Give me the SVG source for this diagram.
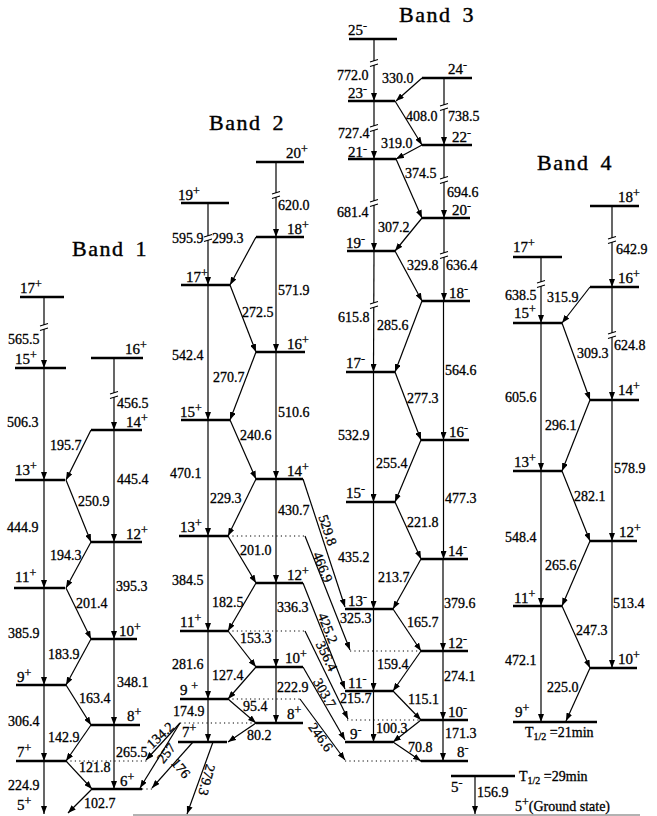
<svg xmlns="http://www.w3.org/2000/svg" width="657" height="816" viewBox="0 0 657 816">
<defs>
<marker id="ah" viewBox="0 0 8 6" refX="8" refY="3" markerWidth="8" markerHeight="6" orient="auto" markerUnits="userSpaceOnUse"><path d="M0,0 L8,3 L0,6 z" fill="#000"/></marker>
<style>
.lv{stroke:#000;stroke-width:2.6;fill:none}
.tr{stroke:#000;stroke-width:1.2;fill:none;marker-end:url(#ah)}
.dt{stroke:#000;stroke-width:1;stroke-dasharray:1.2 3.2;fill:none}
.bk{stroke:#000;stroke-width:1.1;fill:none}
.gap{fill:#fff;stroke:none}
text{font-family:"Liberation Serif","Times New Roman",serif;fill:#000;stroke:#000;stroke-width:0.3}
.e{font-size:14px}
.j{font-size:15px}
.s{font-size:12px}
.t{font-size:22px;letter-spacing:1.5px;word-spacing:4px;stroke-width:0.4}
.h{font-size:14px}
.sub{font-size:10px}
.r{text-anchor:middle}
</style>
</defs>
<rect width="657" height="816" fill="#fff"/>

<g id="titles">
<text class="t" x="72" y="256">Band 1</text>
<text class="t" x="209" y="130">Band 2</text>
<text class="t" x="399" y="22">Band 3</text>
<text class="t" x="537" y="170">Band 4</text>
</g>

<!-- Band 1 levels -->
<g id="b1-17p"><line class="lv" x1="20" y1="297" x2="64" y2="297"/><text class="j" x="20" y="293">17<tspan class="s" dy="-5">+</tspan></text></g>
<g id="b1-15p"><line class="lv" x1="15" y1="368" x2="66" y2="368"/><text class="j" x="15" y="364">15<tspan class="s" dy="-5">+</tspan></text></g>
<g id="b1-16p"><line class="lv" x1="91" y1="358" x2="143" y2="358"/><text class="j" x="125" y="354">16<tspan class="s" dy="-5">+</tspan></text></g>
<g id="b1-14p"><line class="lv" x1="91" y1="430" x2="142" y2="430"/><text class="j" x="126" y="427">14<tspan class="s" dy="-5">+</tspan></text></g>
<g id="b1-13p"><line class="lv" x1="15" y1="480" x2="65" y2="480"/><text class="j" x="15" y="475">13<tspan class="s" dy="-5">+</tspan></text></g>
<g id="b1-12p"><line class="lv" x1="91" y1="542" x2="142" y2="542"/><text class="j" x="126" y="539">12<tspan class="s" dy="-5">+</tspan></text></g>
<g id="b1-11p"><line class="lv" x1="14" y1="588" x2="65" y2="588"/><text class="j" x="15" y="582">11<tspan class="s" dy="-5">+</tspan></text></g>
<g id="b1-10p"><line class="lv" x1="91" y1="639" x2="137" y2="639"/><text class="j" x="119" y="636">10<tspan class="s" dy="-5">+</tspan></text></g>
<g id="b1-9p"><line class="lv" x1="16" y1="685" x2="66" y2="685"/><text class="j" x="17" y="682">9<tspan class="s" dy="-5">+</tspan></text></g>
<g id="b1-8p"><line class="lv" x1="91" y1="725" x2="140" y2="725"/><text class="j" x="127" y="721">8<tspan class="s" dy="-5">+</tspan></text></g>
<g id="b1-7p"><line class="lv" x1="16" y1="761" x2="66" y2="761"/><text class="j" x="17" y="757">7<tspan class="s" dy="-5">+</tspan></text></g>
<g id="b1-6p"><line class="lv" x1="92" y1="789" x2="142" y2="789"/><text class="j" x="120" y="786">6<tspan class="s" dy="-5">+</tspan></text></g>
<g id="b1-5p"><text class="j" x="17" y="810">5<tspan class="s" dy="-5">+</tspan></text></g>

<!-- Band 2 levels -->
<g id="b2-20p"><line class="lv" x1="256" y1="162" x2="304" y2="162"/><text class="j" x="286" y="158">20<tspan class="s" dy="-5">+</tspan></text></g>
<g id="b2-19p"><line class="lv" x1="181" y1="203" x2="229" y2="203"/><text class="j" x="178" y="200">19<tspan class="s" dy="-5">+</tspan></text></g>
<g id="b2-18p"><line class="lv" x1="256" y1="237" x2="304" y2="237"/><text class="j" x="287" y="234">18<tspan class="s" dy="-5">+</tspan></text></g>
<g id="b2-17p"><line class="lv" x1="181" y1="285" x2="230" y2="285"/><text class="j" x="186" y="282">17<tspan class="s" dy="-5">+</tspan></text></g>
<g id="b2-16p"><line class="lv" x1="256" y1="352" x2="305" y2="352"/><text class="j" x="287" y="349">16<tspan class="s" dy="-5">+</tspan></text></g>
<g id="b2-15p"><line class="lv" x1="181" y1="420" x2="230" y2="420"/><text class="j" x="180" y="417">15<tspan class="s" dy="-5">+</tspan></text></g>
<g id="b2-14p"><line class="lv" x1="256" y1="479" x2="303" y2="479"/><text class="j" x="287" y="476">14<tspan class="s" dy="-5">+</tspan></text></g>
<g id="b2-13p"><line class="lv" x1="179" y1="536" x2="228" y2="536"/><text class="j" x="180" y="532">13<tspan class="s" dy="-5">+</tspan></text></g>
<g id="b2-12p"><line class="lv" x1="256" y1="583" x2="303" y2="583"/><text class="j" x="287" y="580">12<tspan class="s" dy="-5">+</tspan></text></g>
<g id="b2-11p"><line class="lv" x1="180" y1="631" x2="228" y2="631"/><text class="j" x="180" y="627">11<tspan class="s" dy="-5">+</tspan></text></g>
<g id="b2-10p"><line class="lv" x1="256" y1="667" x2="303" y2="667"/><text class="j" x="285" y="663">10<tspan class="s" dy="-5">+</tspan></text></g>
<g id="b2-9p"><line class="lv" x1="180" y1="699" x2="228" y2="699"/><text class="j" x="180" y="695">9 <tspan class="s" dy="-5">+</tspan></text></g>
<g id="b2-8p"><line class="lv" x1="256" y1="723" x2="303" y2="723"/><text class="j" x="287" y="719">8<tspan class="s" dy="-5">+</tspan></text></g>
<g id="b2-7p"><line class="lv" x1="178" y1="742" x2="227" y2="742"/><text class="j" x="182" y="737">7<tspan class="s" dy="-5">+</tspan></text></g>

<!-- Band 3 levels -->
<g id="b3-25m"><line class="lv" x1="349" y1="39" x2="397" y2="39"/><text class="j" x="348" y="35">25<tspan class="s" dy="-5">-</tspan></text></g>
<g id="b3-24m"><line class="lv" x1="422" y1="78" x2="472" y2="78"/><text class="j" x="448" y="74">24<tspan class="s" dy="-5">-</tspan></text></g>
<g id="b3-23m"><line class="lv" x1="348" y1="101" x2="395" y2="101"/><text class="j" x="348" y="98">23<tspan class="s" dy="-5">-</tspan></text></g>
<g id="b3-22m"><line class="lv" x1="422" y1="145" x2="472" y2="145"/><text class="j" x="452" y="142">22<tspan class="s" dy="-5">-</tspan></text></g>
<g id="b3-21m"><line class="lv" x1="348" y1="159" x2="396" y2="159"/><text class="j" x="348" y="157">21<tspan class="s" dy="-4">-</tspan></text></g>
<g id="b3-20m"><line class="lv" x1="422" y1="218" x2="470" y2="218"/><text class="j" x="452" y="215">20<tspan class="s" dy="-5">-</tspan></text></g>
<g id="b3-19m"><line class="lv" x1="347" y1="251" x2="395" y2="251"/><text class="j" x="346" y="248">19<tspan class="s" dy="-5">-</tspan></text></g>
<g id="b3-18m"><line class="lv" x1="422" y1="301" x2="470" y2="301"/><text class="j" x="449" y="298">18<tspan class="s" dy="-5">-</tspan></text></g>
<g id="b3-17m"><line class="lv" x1="346" y1="372" x2="395" y2="372"/><text class="j" x="346" y="368">17<tspan class="s" dy="-5">-</tspan></text></g>
<g id="b3-16m"><line class="lv" x1="421" y1="440" x2="469" y2="440"/><text class="j" x="449" y="437">16<tspan class="s" dy="-5">-</tspan></text></g>
<g id="b3-15m"><line class="lv" x1="346" y1="502" x2="395" y2="502"/><text class="j" x="346" y="498">15<tspan class="s" dy="-5">-</tspan></text></g>
<g id="b3-14m"><line class="lv" x1="421" y1="559" x2="468" y2="559"/><text class="j" x="448" y="556">14<tspan class="s" dy="-5">-</tspan></text></g>
<g id="b3-13m"><line class="lv" x1="345" y1="609" x2="393" y2="609"/><text class="j" x="348" y="606">13<tspan class="s" dy="-5">-</tspan></text></g>
<g id="b3-12m"><line class="lv" x1="421" y1="651" x2="468" y2="651"/><text class="j" x="448" y="648">12<tspan class="s" dy="-5">-</tspan></text></g>
<g id="b3-11m"><line class="lv" x1="345" y1="691" x2="393" y2="691"/><text class="j" x="348" y="688">11<tspan class="s" dy="-5">-</tspan></text></g>
<g id="b3-10m"><line class="lv" x1="421" y1="720" x2="468" y2="720"/><text class="j" x="448" y="717">10<tspan class="s" dy="-5">-</tspan></text></g>
<g id="b3-9m"><line class="lv" x1="345" y1="742" x2="393" y2="742"/><text class="j" x="350" y="739">9<tspan class="s" dy="-5">-</tspan></text></g>
<g id="b3-8m"><line class="lv" x1="421" y1="761" x2="468" y2="761"/><text class="j" x="457" y="757">8<tspan class="s" dy="-5">-</tspan></text></g>

<!-- 5- isomer and ground state -->
<g id="iso-5m"><line class="lv" x1="451" y1="776" x2="515" y2="776"/><text class="j" x="451" y="792">5<tspan class="s" dy="-5">-</tspan></text><text class="h" x="519" y="781">T<tspan class="sub" dy="3">1/2</tspan><tspan dy="-3"> =29min</tspan></text></g>
<g id="ground"><line x1="133" y1="815" x2="640" y2="815" stroke="#999" stroke-width="1.5"/><text class="h" x="515" y="811">5<tspan class="s" dy="-5">+</tspan><tspan dy="5">(Ground state)</tspan></text></g>

<!-- Band 4 levels -->
<g id="b4-18p"><line class="lv" x1="590" y1="206" x2="639" y2="206"/><text class="j" x="618" y="202">18<tspan class="s" dy="-5">+</tspan></text></g>
<g id="b4-17p"><line class="lv" x1="513" y1="257" x2="562" y2="257"/><text class="j" x="513" y="252">17<tspan class="s" dy="-5">+</tspan></text></g>
<g id="b4-16p"><line class="lv" x1="590" y1="287" x2="639" y2="287"/><text class="j" x="618" y="283">16<tspan class="s" dy="-5">+</tspan></text></g>
<g id="b4-15p"><line class="lv" x1="513" y1="323" x2="562" y2="323"/><text class="j" x="514" y="318">15<tspan class="s" dy="-5">+</tspan></text></g>
<g id="b4-14p"><line class="lv" x1="590" y1="400" x2="639" y2="400"/><text class="j" x="618" y="395">14<tspan class="s" dy="-5">+</tspan></text></g>
<g id="b4-13p"><line class="lv" x1="513" y1="471" x2="562" y2="471"/><text class="j" x="514" y="467">13<tspan class="s" dy="-5">+</tspan></text></g>
<g id="b4-12p"><line class="lv" x1="590" y1="541" x2="637" y2="541"/><text class="j" x="619" y="537">12<tspan class="s" dy="-5">+</tspan></text></g>
<g id="b4-11p"><line class="lv" x1="513" y1="606" x2="562" y2="606"/><text class="j" x="514" y="603">11<tspan class="s" dy="-5">+</tspan></text></g>
<g id="b4-10p"><line class="lv" x1="590" y1="668" x2="637" y2="668"/><text class="j" x="618" y="664">10<tspan class="s" dy="-5">+</tspan></text></g>
<g id="b4-9p"><line class="lv" x1="513" y1="722" x2="597" y2="722" stroke-width="3"/><text class="j" x="515" y="717">9<tspan class="s" dy="-5">+</tspan></text><text class="h" x="525" y="737">T<tspan class="sub" dy="3">1/2</tspan><tspan dy="-3"> =21min</tspan></text></g>

<!-- Connectors -->
<g id="connectors">
<path class="dt" d="M66,761 L147,761 M142,789 L152,789 M228,536 L305,536 M228,631 L305,631 M228,699 L300,699 M180,723 L256,723 M350,651 L421,651 M347,720 L421,720 M345,761 L421,761"/>

<!-- Band 1 -->
<line class="tr" x1="44" y1="297" x2="44" y2="368"/>
<line class="tr" x1="44" y1="368" x2="44" y2="480"/>
<line class="tr" x1="44" y1="480" x2="44" y2="588"/>
<line class="tr" x1="44" y1="588" x2="44" y2="685"/>
<line class="tr" x1="44" y1="685" x2="44" y2="761"/>
<line class="tr" x1="44" y1="761" x2="44" y2="814"/>
<line class="tr" x1="114" y1="358" x2="114" y2="430"/>
<line class="tr" x1="114" y1="430" x2="114" y2="542"/>
<line class="tr" x1="114" y1="542" x2="114" y2="639"/>
<line class="tr" x1="114" y1="639" x2="114" y2="725"/>
<line class="tr" x1="114" y1="725" x2="114" y2="789"/>
<line class="tr" x1="91" y1="430" x2="66" y2="480"/>
<line class="tr" x1="66" y1="480" x2="91" y2="542"/>
<line class="tr" x1="91" y1="542" x2="66" y2="588"/>
<line class="tr" x1="66" y1="588" x2="91" y2="639"/>
<line class="tr" x1="91" y1="639" x2="66" y2="685"/>
<line class="tr" x1="66" y1="685" x2="91" y2="725"/>
<line class="tr" x1="91" y1="725" x2="66" y2="761"/>
<line class="tr" x1="66" y1="761" x2="92" y2="789"/>
<line class="tr" x1="92" y1="789" x2="68" y2="813"/>

<!-- Band 2 -->
<line class="tr" x1="208" y1="203" x2="208" y2="285"/>
<line class="tr" x1="208" y1="285" x2="208" y2="420"/>
<line class="tr" x1="208" y1="420" x2="208" y2="536"/>
<line class="tr" x1="208" y1="536" x2="208" y2="631"/>
<line class="tr" x1="208" y1="631" x2="208" y2="699"/>
<line class="tr" x1="208" y1="699" x2="208" y2="742"/>
<line class="tr" x1="276" y1="162" x2="276" y2="237"/>
<line class="tr" x1="276" y1="237" x2="276" y2="352"/>
<line class="tr" x1="276" y1="352" x2="276" y2="479"/>
<line class="tr" x1="276" y1="479" x2="276" y2="583"/>
<line class="tr" x1="276" y1="583" x2="276" y2="667"/>
<line class="tr" x1="276" y1="667" x2="276" y2="723"/>
<line class="tr" x1="256" y1="237" x2="230" y2="285"/>
<line class="tr" x1="230" y1="285" x2="256" y2="352"/>
<line class="tr" x1="256" y1="352" x2="230" y2="420"/>
<line class="tr" x1="230" y1="420" x2="256" y2="479"/>
<line class="tr" x1="256" y1="479" x2="228" y2="536"/>
<line class="tr" x1="228" y1="536" x2="256" y2="583"/>
<line class="tr" x1="256" y1="583" x2="228" y2="631"/>
<line class="tr" x1="228" y1="631" x2="256" y2="667"/>
<line class="tr" x1="256" y1="667" x2="228" y2="699"/>
<line class="tr" x1="228" y1="699" x2="256" y2="723"/>
<line class="tr" x1="256" y1="723" x2="228" y2="742"/>
<line class="tr" x1="180" y1="723" x2="146" y2="760"/>
<line class="tr" x1="180" y1="723" x2="140" y2="788"/>
<line class="tr" x1="193" y1="742" x2="152" y2="788"/>
<line class="tr" x1="213" y1="742" x2="187" y2="814"/>
<!-- Band 2 to Band 3 -->
<line class="tr" x1="303" y1="479" x2="345" y2="607"/>
<line class="tr" x1="305" y1="536" x2="350" y2="650"/>
<line class="tr" x1="303" y1="583" x2="345" y2="689"/>
<line class="tr" x1="305" y1="631" x2="348" y2="719"/>
<line class="tr" x1="303" y1="667" x2="345" y2="740"/>
<line class="tr" x1="300" y1="699" x2="345" y2="760"/>

<!-- Band 3 -->
<line class="tr" x1="374" y1="39" x2="374" y2="101"/>
<line class="tr" x1="374" y1="101" x2="374" y2="159"/>
<line class="tr" x1="374" y1="159" x2="374" y2="251"/>
<line class="tr" x1="374" y1="251" x2="373.5" y2="372"/>
<line class="tr" x1="373.5" y1="372" x2="373.5" y2="502"/>
<line class="tr" x1="373.5" y1="502" x2="373.5" y2="609"/>
<line class="tr" x1="373.5" y1="609" x2="373.5" y2="691"/>
<line class="tr" x1="373.5" y1="691" x2="373.5" y2="742"/>
<line class="tr" x1="444" y1="78" x2="444" y2="145"/>
<line class="tr" x1="444" y1="145" x2="444" y2="218"/>
<line class="tr" x1="444" y1="218" x2="444" y2="301"/>
<line class="tr" x1="443.5" y1="301" x2="443.5" y2="440"/>
<line class="tr" x1="443.5" y1="440" x2="443.5" y2="559"/>
<line class="tr" x1="443" y1="559" x2="443" y2="651"/>
<line class="tr" x1="443" y1="651" x2="443" y2="720"/>
<line class="tr" x1="443" y1="720" x2="443" y2="761"/>
<line class="tr" x1="422" y1="78" x2="396" y2="101"/>
<line class="tr" x1="395" y1="101" x2="422" y2="145"/>
<line class="tr" x1="422" y1="145" x2="396" y2="159"/>
<line class="tr" x1="396" y1="159" x2="422" y2="218"/>
<line class="tr" x1="422" y1="218" x2="395" y2="251"/>
<line class="tr" x1="395" y1="251" x2="422" y2="301"/>
<line class="tr" x1="422" y1="301" x2="395" y2="372"/>
<line class="tr" x1="395" y1="372" x2="421" y2="440"/>
<line class="tr" x1="421" y1="440" x2="395" y2="502"/>
<line class="tr" x1="395" y1="502" x2="421" y2="559"/>
<line class="tr" x1="421" y1="559" x2="393" y2="609"/>
<line class="tr" x1="393" y1="609" x2="421" y2="651"/>
<line class="tr" x1="421" y1="651" x2="393" y2="691"/>
<line class="tr" x1="393" y1="691" x2="421" y2="720"/>
<line class="tr" x1="421" y1="720" x2="393" y2="742"/>
<line class="tr" x1="393" y1="742" x2="421" y2="761"/>
<line class="tr" x1="475" y1="776" x2="475" y2="814"/>

<!-- Band 4 -->
<line class="tr" x1="541" y1="257" x2="541" y2="323"/>
<line class="tr" x1="541" y1="323" x2="541" y2="471"/>
<line class="tr" x1="541" y1="471" x2="541" y2="606"/>
<line class="tr" x1="541" y1="606" x2="541" y2="722"/>
<line class="tr" x1="612" y1="206" x2="612" y2="287"/>
<line class="tr" x1="612" y1="287" x2="612" y2="400"/>
<line class="tr" x1="612" y1="400" x2="612" y2="541"/>
<line class="tr" x1="612" y1="541" x2="612" y2="668"/>
<line class="tr" x1="590" y1="287" x2="562" y2="323"/>
<line class="tr" x1="562" y1="323" x2="590" y2="400"/>
<line class="tr" x1="590" y1="400" x2="562" y2="471"/>
<line class="tr" x1="562" y1="471" x2="590" y2="541"/>
<line class="tr" x1="590" y1="541" x2="562" y2="606"/>
<line class="tr" x1="562" y1="606" x2="590" y2="668"/>
<line class="tr" x1="590" y1="668" x2="566" y2="721"/>

<!-- break marks -->
<g id="breaks">
<g transform="translate(44,327)"><rect class="gap" x="-4" y="-2" width="8" height="4"/><path class="bk" d="M-4,-1 L4,-3.5 M-4,3.5 L4,1"/></g>
<g transform="translate(114,395)"><rect class="gap" x="-4" y="-2" width="8" height="4"/><path class="bk" d="M-4,-1 L4,-3.5 M-4,3.5 L4,1"/></g>
<g transform="translate(276,195)"><rect class="gap" x="-4" y="-2" width="8" height="4"/><path class="bk" d="M-4,-1 L4,-3.5 M-4,3.5 L4,1"/></g>
<g transform="translate(208,238)"><rect class="gap" x="-4" y="-2" width="8" height="4"/><path class="bk" d="M-4,-1 L4,-3.5 M-4,3.5 L4,1"/></g>
<g transform="translate(374,63)"><rect class="gap" x="-4" y="-2" width="8" height="4"/><path class="bk" d="M-4,-1 L4,-3.5 M-4,3.5 L4,1"/></g>
<g transform="translate(444,107)"><rect class="gap" x="-4" y="-2" width="8" height="4"/><path class="bk" d="M-4,-1 L4,-3.5 M-4,3.5 L4,1"/></g>
<g transform="translate(374,128)"><rect class="gap" x="-4" y="-2" width="8" height="4"/><path class="bk" d="M-4,-1 L4,-3.5 M-4,3.5 L4,1"/></g>
<g transform="translate(444,180)"><rect class="gap" x="-4" y="-2" width="8" height="4"/><path class="bk" d="M-4,-1 L4,-3.5 M-4,3.5 L4,1"/></g>
<g transform="translate(374,203)"><rect class="gap" x="-4" y="-2" width="8" height="4"/><path class="bk" d="M-4,-1 L4,-3.5 M-4,3.5 L4,1"/></g>
<g transform="translate(444,255)"><rect class="gap" x="-4" y="-2" width="8" height="4"/><path class="bk" d="M-4,-1 L4,-3.5 M-4,3.5 L4,1"/></g>
<g transform="translate(374,305)"><rect class="gap" x="-4" y="-2" width="8" height="4"/><path class="bk" d="M-4,-1 L4,-3.5 M-4,3.5 L4,1"/></g>
<g transform="translate(612,240)"><rect class="gap" x="-4" y="-2" width="8" height="4"/><path class="bk" d="M-4,-1 L4,-3.5 M-4,3.5 L4,1"/></g>
<g transform="translate(541,284)"><rect class="gap" x="-4" y="-2" width="8" height="4"/><path class="bk" d="M-4,-1 L4,-3.5 M-4,3.5 L4,1"/></g>
<g transform="translate(612,335)"><rect class="gap" x="-4" y="-2" width="8" height="4"/><path class="bk" d="M-4,-1 L4,-3.5 M-4,3.5 L4,1"/></g>
</g>

<!-- energy labels -->
<g id="energies" class="e">
<text x="8" y="344">565.5</text>
<text x="117" y="408">456.5</text>
<text x="7" y="427">506.3</text>
<text x="50" y="450">195.7</text>
<text x="117" y="484">445.4</text>
<text x="78" y="506">250.9</text>
<text x="7" y="532">444.9</text>
<text x="50" y="560">194.3</text>
<text x="116" y="591">395.3</text>
<text x="76" y="608">201.4</text>
<text x="8" y="638">385.9</text>
<text x="48" y="659">183.9</text>
<text x="117" y="687">348.1</text>
<text x="79" y="703">163.4</text>
<text x="8" y="726">306.4</text>
<text x="48" y="742">142.9</text>
<text x="116" y="757">265.5</text>
<text x="79" y="772">121.8</text>
<text x="8" y="790">224.9</text>
<text x="84" y="808">102.7</text>

<text x="278" y="210">620.0</text>
<text x="172" y="243">595.9</text>
<text x="212" y="243">299.3</text>
<text x="278" y="295">571.9</text>
<text x="242" y="317">272.5</text>
<text x="172" y="360">542.4</text>
<text x="213" y="382">270.7</text>
<text x="278" y="417">510.6</text>
<text x="240" y="440">240.6</text>
<text x="170" y="478">470.1</text>
<text x="210" y="503">229.3</text>
<text x="278" y="515">430.7</text>
<text x="240" y="555">201.0</text>
<text x="172" y="585">384.5</text>
<text x="212" y="607">182.5</text>
<text x="277" y="612">336.3</text>
<text x="240" y="643">153.3</text>
<text x="172" y="669">281.6</text>
<text x="212" y="680">127.4</text>
<text x="277" y="692">222.9</text>
<text x="243" y="711">95.4</text>
<text x="173" y="716">174.9</text>
<text x="247" y="740">80.2</text>
<text class="r" dy="5" transform="translate(160,735) rotate(-43)">134.2</text>
<text class="r" dy="5" transform="translate(166,753) rotate(-52)">257</text>
<text class="r" dy="5" transform="translate(181,768) rotate(50)">176</text>
<text class="r" dy="5" transform="translate(207,780) rotate(105)">279.3</text>
<text class="r" dy="5" transform="translate(328,530) rotate(71)">529.8</text>
<text class="r" dy="5" transform="translate(323,567) rotate(68)">466.9</text>
<text class="r" dy="5" transform="translate(328,628) rotate(68)">425.2</text>
<text class="r" dy="5" transform="translate(327,656) rotate(64)">356.4</text>
<text class="r" dy="5" transform="translate(325,693) rotate(60)">303.7</text>
<text class="r" dy="5" transform="translate(321,737) rotate(54)">246.6</text>

<text x="337" y="80">772.0</text>
<text x="382" y="83">330.0</text>
<text x="406" y="121">408.0</text>
<text x="448" y="121">738.5</text>
<text x="338" y="138">727.4</text>
<text x="381" y="148">319.0</text>
<text x="405" y="178">374.5</text>
<text x="447" y="197">694.6</text>
<text x="337" y="217">681.4</text>
<text x="378" y="232">307.2</text>
<text x="407" y="270">329.8</text>
<text x="446" y="270">636.4</text>
<text x="338" y="322">615.8</text>
<text x="377" y="330">285.6</text>
<text x="445" y="375">564.6</text>
<text x="407" y="403">277.3</text>
<text x="338" y="440">532.9</text>
<text x="376" y="468">255.4</text>
<text x="445" y="503">477.3</text>
<text x="407" y="527">221.8</text>
<text x="338" y="562">435.2</text>
<text x="378" y="582">213.7</text>
<text x="444" y="608">379.6</text>
<text x="340" y="623">325.3</text>
<text x="407" y="627">165.7</text>
<text x="377" y="669">159.4</text>
<text x="444" y="681">274.1</text>
<text x="340" y="703">215.7</text>
<text x="408" y="704">115.1</text>
<text x="376" y="733">100.3</text>
<text x="445" y="738">171.3</text>
<text x="408" y="752">70.8</text>
<text x="477" y="797">156.9</text>

<text x="616" y="254">642.9</text>
<text x="505" y="300">638.5</text>
<text x="547" y="302">315.9</text>
<text x="614" y="350">624.8</text>
<text x="577" y="358">309.3</text>
<text x="505" y="402">605.6</text>
<text x="545" y="430">296.1</text>
<text x="614" y="473">578.9</text>
<text x="574" y="501">282.1</text>
<text x="505" y="542">548.4</text>
<text x="545" y="570">265.6</text>
<text x="613" y="608">513.4</text>
<text x="576" y="635">247.3</text>
<text x="505" y="665">472.1</text>
<text x="547" y="692">225.0</text>
</g>
</g>
</svg>
